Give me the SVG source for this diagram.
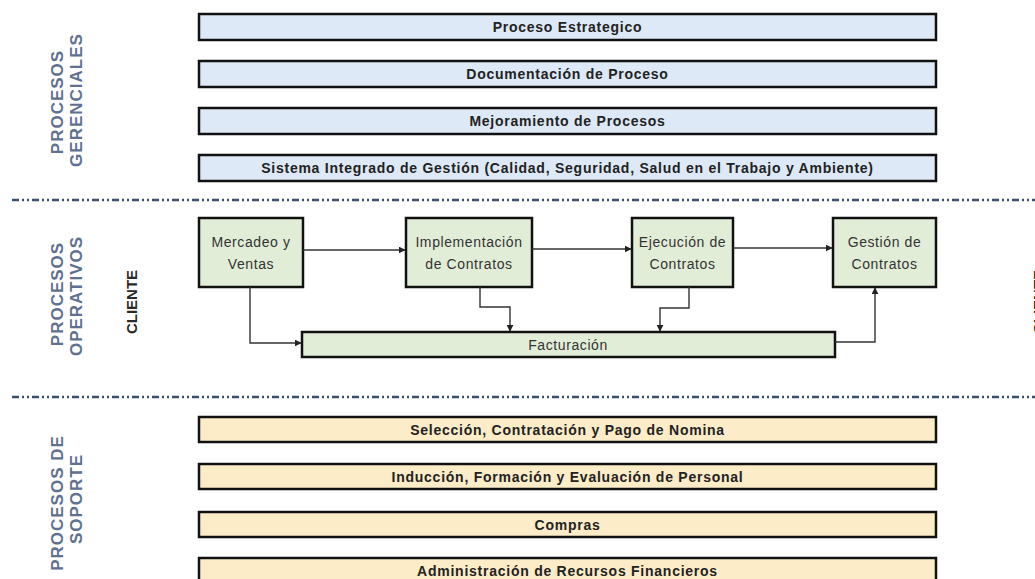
<svg xmlns="http://www.w3.org/2000/svg" width="1035" height="579" viewBox="0 0 1035 579">
<defs>
<style>
.bg{fill:#ffffff}
.ger rect{fill:#dde9f6;stroke:#111;stroke-width:2.5}
.sop rect{fill:#fcecc8;stroke:#111;stroke-width:2.5}
.op rect{fill:#e2edd8;stroke:#111;stroke-width:2.5}
.bt{font-family:"Liberation Sans",Arial,sans-serif;font-weight:bold;font-size:14px;fill:#222;text-anchor:middle;letter-spacing:0.75px}
.ot{font-family:"Liberation Sans",Arial,sans-serif;font-size:14px;fill:#333;text-anchor:middle;letter-spacing:0.6px}
.lab{font-family:"Liberation Sans",Arial,sans-serif;font-weight:bold;font-size:17px;fill:#5f7191;text-anchor:middle;letter-spacing:1px}
.cli{font-family:"Liberation Sans",Arial,sans-serif;font-weight:bold;font-size:15px;fill:#2a2a2a;text-anchor:middle}
.sep{stroke:#3a4f70;stroke-width:2.5;stroke-dasharray:7 3 2 3 2 3;fill:none}
.con path{fill:none;stroke:#333;stroke-width:1.4}
</style>
<marker id="ah" viewBox="0 0 10 10" refX="9" refY="5" markerWidth="7" markerHeight="7" markerUnits="userSpaceOnUse" orient="auto">
<path d="M0,0 L10,5 L0,10 Z" fill="#222"/>
</marker>
</defs>
<rect class="bg" x="0" y="0" width="1035" height="579"/>

<g id="labels">
<text class="lab" transform="translate(63,102) rotate(-90)">PROCESOS</text>
<text class="lab" transform="translate(82,100) rotate(-90)">GERENCIALES</text>
<text class="lab" transform="translate(63,294) rotate(-90)">PROCESOS</text>
<text class="lab" transform="translate(82,296) rotate(-90)">OPERATIVOS</text>
<text class="lab" transform="translate(63,503) rotate(-90)">PROCESOS DE</text>
<text class="lab" transform="translate(82,499) rotate(-90)">SOPORTE</text>
<text class="cli" transform="translate(137,302) rotate(-90)">CLIENTE</text>
<text class="cli" transform="translate(1044,302) rotate(-90)">CLIENTE</text>
</g>

<g id="separators">
<line class="sep" x1="12" y1="200" x2="1035" y2="200"/>
<line class="sep" x1="12" y1="397" x2="1035" y2="397"/>
</g>

<g class="ger">
<g id="proceso-estrategico"><rect x="199" y="14" width="737" height="26"/><text class="bt" x="567.5" y="32">Proceso Estrategico</text></g>
<g id="documentacion"><rect x="199" y="61" width="737" height="26"/><text class="bt" x="567.5" y="79">Documentación de Proceso</text></g>
<g id="mejoramiento"><rect x="199" y="108" width="737" height="26"/><text class="bt" x="567.5" y="126">Mejoramiento de Procesos</text></g>
<g id="sistema-integrado"><rect x="199" y="155" width="737" height="26"/><text class="bt" x="567.5" y="173">Sistema Integrado de Gestión (Calidad, Seguridad, Salud en el Trabajo y Ambiente)</text></g>
</g>

<g class="op">
<g id="mercadeo"><rect x="199" y="218" width="104" height="69"/><text class="ot" x="251" y="247">Mercadeo y</text><text class="ot" x="251" y="269">Ventas</text></g>
<g id="implementacion"><rect x="406" y="218" width="126" height="69"/><text class="ot" x="469" y="247">Implementación</text><text class="ot" x="469" y="269">de Contratos</text></g>
<g id="ejecucion"><rect x="632" y="218" width="101" height="69"/><text class="ot" x="682.5" y="247">Ejecución de</text><text class="ot" x="682.5" y="269">Contratos</text></g>
<g id="gestion"><rect x="833" y="218" width="103" height="69"/><text class="ot" x="884.5" y="247">Gestión de</text><text class="ot" x="884.5" y="269">Contratos</text></g>
<g id="facturacion"><rect x="302" y="332" width="533" height="25"/><text class="ot" x="568" y="350">Facturación</text></g>
</g>

<g class="con" id="connectors">
<path d="M303,250 H405" marker-end="url(#ah)"/>
<path d="M532,249 H631" marker-end="url(#ah)"/>
<path d="M733,248 H832" marker-end="url(#ah)"/>
<path d="M250,287 V343 H301" marker-end="url(#ah)"/>
<path d="M480,287 V307 H510 V331" marker-end="url(#ah)"/>
<path d="M689,287 V308 H660 V331" marker-end="url(#ah)"/>
<path d="M835,342 H875 V288" marker-end="url(#ah)"/>
</g>

<g class="sop">
<g id="seleccion"><rect x="199" y="417" width="737" height="25"/><text class="bt" x="567.5" y="435">Selección, Contratación y Pago de Nomina</text></g>
<g id="induccion"><rect x="199" y="464" width="737" height="25"/><text class="bt" x="567.5" y="482">Inducción, Formación y Evaluación de Personal</text></g>
<g id="compras"><rect x="199" y="512" width="737" height="25"/><text class="bt" x="567.5" y="530">Compras</text></g>
<g id="administracion"><rect x="199" y="558" width="737" height="25"/><text class="bt" x="567.5" y="576">Administración de Recursos Financieros</text></g>
</g>
</svg>
